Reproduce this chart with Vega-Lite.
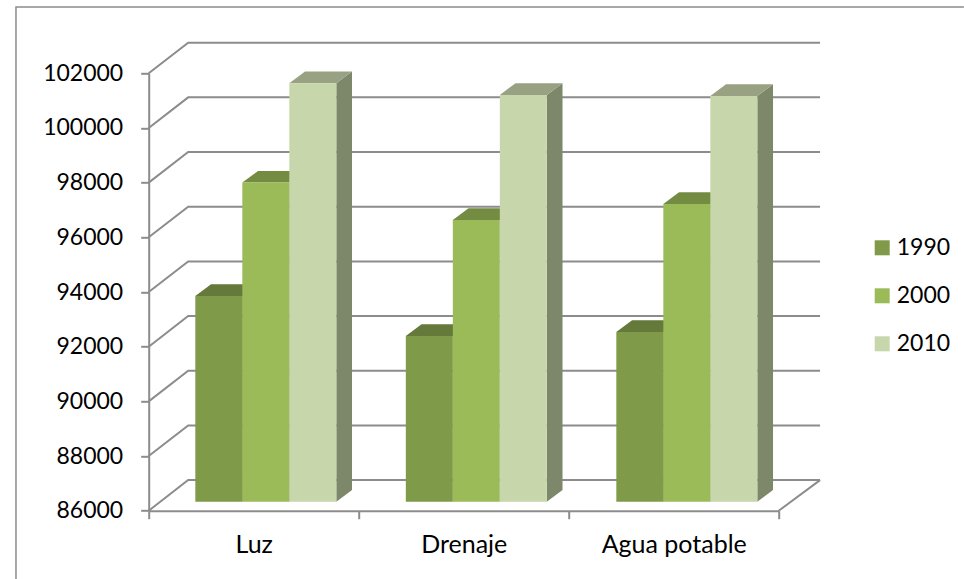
{
"$schema":"https://vega.github.io/schema/vega-lite/v6.json",
"width":630,"height":437.4,
"autosize":{"type":"none"},
"padding":{"left":148.7,"top":73.3,"right":185.3,"bottom":68.3},
"background":"white",
"config":{"view":{"stroke":null}},
"data":{"values":[
{"category":"Luz","year":"1990","value":93526},
{"category":"Luz","year":"2000","value":97672},
{"category":"Luz","year":"2010","value":101309},
{"category":"Drenaje","year":"1990","value":92063},
{"category":"Drenaje","year":"2000","value":96307},
{"category":"Drenaje","year":"2010","value":100881},
{"category":"Agua potable","year":"1990","value":92209},
{"category":"Agua potable","year":"2000","value":96893},
{"category":"Agua potable","year":"2010","value":100844}
]},
"transform":[
{"calculate":"indexof(['Luz','Drenaje','Agua potable'],datum.category)*1.0024+0.222+indexof(['1990','2000','2010'],datum.year)*0.2238","as":"x0"},
{"calculate":"datum.x0+0.2238","as":"x1"},
{"calculate":"datum.value+329","as":"t"}
],
"layer":[
{"data":{"values":[{"tick":86000},{"tick":88000},{"tick":90000},{"tick":92000},{"tick":94000},{"tick":96000},{"tick":98000},{"tick":100000},{"tick":102000}]},
 "transform":[
 {"calculate":"[0,0.188,3.197]","as":"px"},
 {"calculate":"[datum.tick,datum.tick+1120,datum.tick+1120]","as":"py"},
 {"flatten":["px","py"]}],
 "mark":{"type":"line","stroke":"#8C8C8C","strokeWidth":2,"clip":false},
 "encoding":{
  "x":{"field":"px","type":"quantitative","axis":{"title":null},"scale":{"domain":[0,3],"nice":false,"zero":false}},
  "y":{"field":"py","type":"quantitative","axis":{"title":null},"scale":{"domain":[86000,102000],"nice":false,"zero":false}},
  "detail":{"field":"tick"},
  "order":{"field":"px"}}},
{"data":{"values":[{"px":3.197,"py":87120},{"px":3,"py":86000}]},
 "mark":{"type":"line","stroke":"#8C8C8C","strokeWidth":2,"clip":false},
 "encoding":{
  "x":{"field":"px","type":"quantitative","axis":{"title":null}},
  "y":{"field":"py","type":"quantitative","axis":{"title":null}}}},
{"data":{"values":[{"o":0,"px":-0.632,"py":83501},{"o":1,"px":-0.632,"py":104426},{"o":2,"px":3.882,"py":104426}]},
 "mark":{"type":"line","stroke":"#8C8C8C","strokeWidth":1.5,"clip":false},
 "encoding":{
  "x":{"field":"px","type":"quantitative","axis":{"title":null}},
  "y":{"field":"py","type":"quantitative","axis":{"title":null}},
  "order":{"field":"o"}}},
{"transform":[
 {"calculate":"[datum.x1,datum.x1+0.0748]","as":"px"},
 {"calculate":"[datum.t,datum.t+428]","as":"py"},
 {"calculate":"[86329,86757]","as":"py2"},
 {"flatten":["px","py","py2"]}],
 "mark":{"type":"area","clip":false},
 "encoding":{
  "x":{"field":"px","type":"quantitative","axis":{"title":null}},
  "y":{"field":"py","type":"quantitative","axis":{"title":null},"stack":null},
  "y2":{"field":"py2"},
  "detail":{"field":"category"},
  "color":{"field":"year","type":"nominal","legend":null,"scale":{"domain":["1990","2000","2010"],"range":["#64793A","#748C41","#7D8769"]}}}},
{"transform":[
 {"calculate":"[datum.x0,datum.x0+0.0748,datum.x1,datum.x1+0.0748]","as":"px"},
 {"calculate":"[datum.t,datum.t+428,datum.t+428,datum.t+428]","as":"py"},
 {"calculate":"[datum.t,datum.t,datum.t,datum.t+428]","as":"py2"},
 {"flatten":["px","py","py2"]}],
 "mark":{"type":"area","clip":false},
 "encoding":{
  "x":{"field":"px","type":"quantitative","axis":{"title":null}},
  "y":{"field":"py","type":"quantitative","axis":{"title":null},"stack":null},
  "y2":{"field":"py2"},
  "detail":{"field":"category"},
  "color":{"field":"year","type":"nominal","legend":null,"scale":{"domain":["1990","2000","2010"],"range":["#64793A","#748C41","#98A283"]}}}},
{"transform":[{"calculate":"86329","as":"b"}],
 "mark":{"type":"rect","clip":false},
 "encoding":{
  "x":{"field":"x0","type":"quantitative","axis":{
    "values":[0,0.5,1,1.5,2,2.5,3],"title":null,"grid":false,
    "domainColor":"#8C8C8C","domainWidth":2,"tickColor":"#8C8C8C","tickWidth":2,"tickSize":8,
    "tickOpacity":{"condition":{"test":"datum.value%1!=0","value":0},"value":1},
    "labelExpr":"datum.value==0.5?'Luz':datum.value==1.5?'Drenaje':datum.value==2.5?'Agua potable':''",
    "labelFont":"Lato","labelFontSize":25,"labelColor":"#000000","labelPadding":14,"labelOverlap":false,"labelBound":false,"labelFlush":false,"labelAngle":0}},
  "x2":{"field":"x1"},
  "y":{"field":"t","type":"quantitative","axis":{
    "values":[86000,88000,90000,92000,94000,96000,98000,100000,102000],"title":null,"grid":false,"format":"d",
    "domainColor":"#8C8C8C","domainWidth":2,"tickColor":"#8C8C8C","tickWidth":2,"tickSize":8,
    "labelFont":"Lato","labelFontSize":23,"labelColor":"#000000","labelPadding":18,"labelOverlap":false,"labelBound":false,"labelFlush":false}},
  "y2":{"field":"b"},
  "color":{"field":"year","type":"nominal","scale":{"domain":["1990","2000","2010"],"range":["#7F9A48","#9BBB59","#C8D6AC"]},
   "legend":{"orient":"none","legendX":722,"legendY":163,"title":null,"symbolType":"square","symbolSize":225,"symbolStrokeWidth":0,"labelFont":"Lato","labelFontSize":23,"labelColor":"#000000","labelOffset":3,"rowPadding":24}}}}
],
"resolve":{"scale":{"color":"independent"}}
}
